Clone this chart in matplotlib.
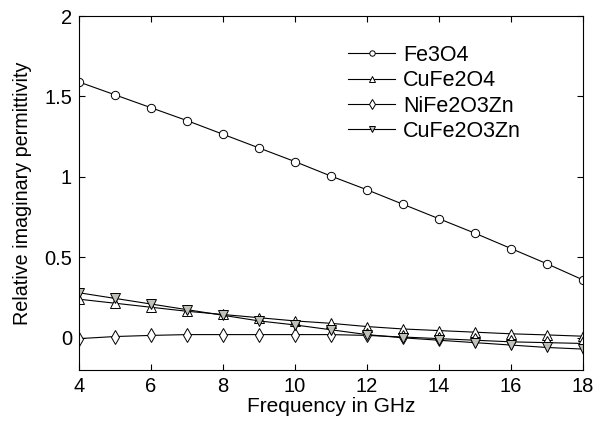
import matplotlib
matplotlib.use("Agg")
import matplotlib.pyplot as plt

plt.rcParams['font.family'] = ['Liberation Sans', 'DejaVu Sans']

freq = [4, 5, 6, 7, 8, 9, 10, 11, 12, 13, 14, 15, 16, 17, 18]
fe3o4 = [1.59, 1.51, 1.43, 1.35, 1.265, 1.18, 1.095, 1.005, 0.92, 0.83, 0.74, 0.65, 0.555, 0.46, 0.36]
cufe2o4 = [0.24, 0.215, 0.19, 0.165, 0.145, 0.125, 0.105, 0.09, 0.07, 0.055, 0.045, 0.035, 0.025, 0.018, 0.01]
nife2o3zn = [-0.005, 0.008, 0.015, 0.02, 0.02, 0.02, 0.02, 0.02, 0.015, 0.005, -0.005, -0.015, -0.025, -0.03, -0.035]
cufe2o3zn = [0.28, 0.245, 0.21, 0.175, 0.14, 0.105, 0.08, 0.05, 0.02, 0.0, -0.015, -0.03, -0.045, -0.06, -0.07]

fig = plt.figure(figsize=(6.0, 4.21), dpi=100)
ax = fig.add_axes([79/600, 1 - 370/421, (583-79)/600, (370-16)/421])

lw = 0.8
ax.plot(freq, fe3o4, '-', color='black', lw=lw, marker='o', ms=6, mfc='white', mec='black', mew=0.7, label='Fe3O4')
ax.plot(freq, cufe2o4, '-', color='black', lw=lw, marker='^', ms=6.5, mfc='white', mec='black', mew=0.7, label='CuFe2O4')
ax.plot(freq, nife2o3zn, '-', color='black', lw=lw, marker='d', ms=7.5, mfc='white', mec='black', mew=0.7, label='NiFe2O3Zn')
ax.plot(freq, cufe2o3zn, '-', color='black', lw=lw, marker='v', ms=6.5, mfc='#c0bfb8', mec='black', mew=0.7, label='CuFe2O3Zn')

ax.set_xlim(4, 18)
ax.set_ylim(-0.2, 2)
ax.set_xticks([4, 6, 8, 10, 12, 14, 16, 18])
ax.set_yticks([0, 0.5, 1, 1.5, 2])
ax.set_yticklabels(['0', '0.5', '1', '1.5', '2'])
ax.tick_params(direction='in', labelsize=14.5, length=4, top=True, right=True, pad=5)
ax.set_xlabel('Frequency in GHz', fontsize=15, labelpad=1)
ax.set_ylabel('Relative imaginary permittivity', fontsize=14.2, labelpad=9)
for s in ax.spines.values():
    s.set_linewidth(0.8)

leg = ax.legend(loc='upper left', bbox_to_anchor=((348-79)/504, (370-45)/354), frameon=False, fontsize=15.5,
                handlelength=2.2, labelspacing=0.2, handletextpad=0.35, borderpad=0, borderaxespad=0,
                markerscale=0.65)

fig.savefig('out.png', dpi=100)
